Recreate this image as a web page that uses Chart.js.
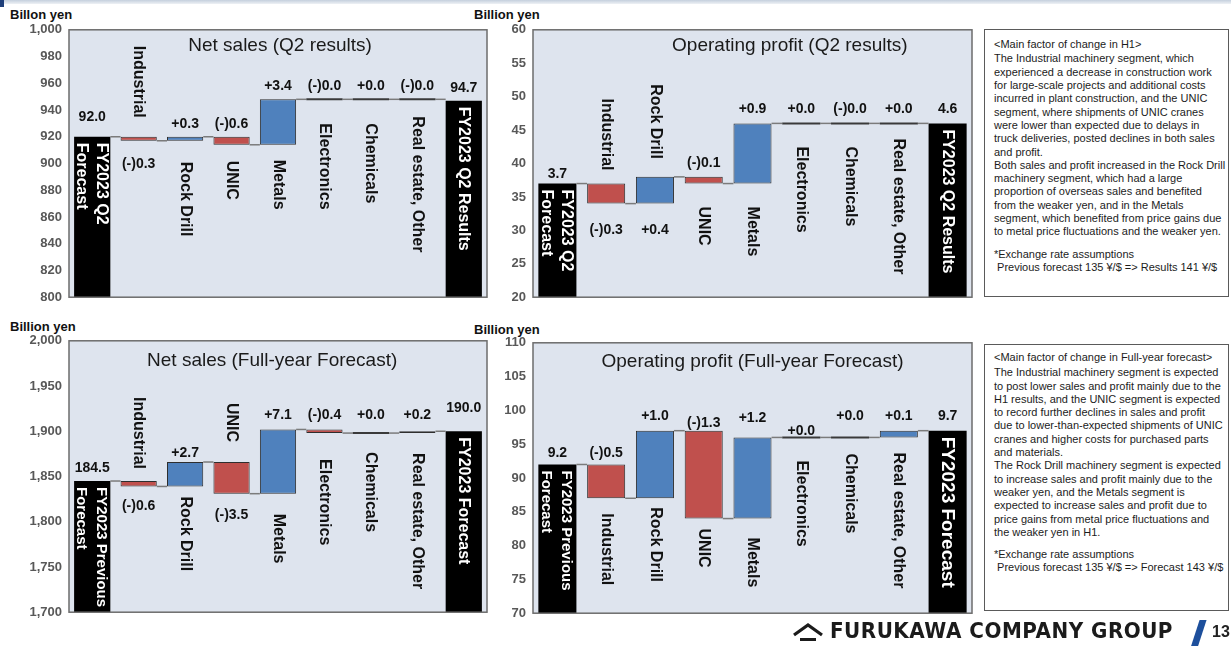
<!DOCTYPE html>
<html>
<head>
<meta charset="utf-8">
<script src="https://cdn.jsdelivr.net/npm/chart.js@4.4.0/dist/chart.umd.min.js"></script>
<style>
  html, body { margin: 0; padding: 0; background: #fff; }
  body { width: 1231px; height: 646px; position: relative; overflow: hidden;
         font-family: "Liberation Sans", Arial, sans-serif; }
  .topband { position: absolute; left: 0; top: 0; width: 1231px; height: 4px;
             background: linear-gradient(#c4cfdd, #eef1f5); }
  .topmark { position: absolute; left: 0; top: 0; width: 4px; height: 7px; background: #1f3f7a; }
  .unit { position: absolute; font-weight: bold; font-size: 13px; line-height: 14px; color: #111; white-space: nowrap; }
  canvas { position: absolute; }
  .note { position: absolute; border: 1px solid #5a5a5a; box-sizing: border-box; background: #fff;
          font-size: 11px; line-height: 13.3px; color: #1c1c1c; padding-left: 9px; white-space: pre; }
  .note .head { margin-bottom: 1.7px; }
  .note .fx { margin-top: 9px; }
  .brand { position: absolute; left: 830px; top: 619px; font-family: "DejaVu Sans", sans-serif;
           font-weight: bold; font-size: 21px; line-height: 24px; color: #1b1b1b; white-space: nowrap;
           transform-origin: 0 50%; letter-spacing: 0.5px; }
  .icon { position: absolute; left: 791px; top: 620px; }
  .slash { position: absolute; left: 1195px; top: 620px; width: 7px; height: 28px; background: #1d4f9c;
           transform: skewX(-18deg); }
  .page { position: absolute; left: 1212px; top: 623px; font-weight: bold; font-size: 16px; color: #222; }
</style>
</head>
<body>
<div class="topband"></div>
<div class="topmark"></div>

<div class="unit" style="left:10px;top:8px;">Billon yen</div>
<div class="unit" style="left:474px;top:8px;">Billion yen</div>
<div class="unit" style="left:10px;top:320px;">Billion yen</div>
<div class="unit" style="left:474px;top:323px;">Billion yen</div>

<canvas id="cQ2Sales"></canvas>
<canvas id="cQ2Profit"></canvas>
<canvas id="cFySales"></canvas>
<canvas id="cFyProfit"></canvas>

<div class="note" style="left:984px;top:29px;width:245px;height:268px;padding-top:7.5px;"><div class="head">&lt;Main factor of change in H1&gt;</div><div>The Industrial machinery segment, which
experienced a decrease in construction work
for large-scale projects and additional costs
incurred in plant construction, and the UNIC
segment, where shipments of UNIC cranes
were lower than expected due to delays in
truck deliveries, posted declines in both sales
and profit.
Both sales and profit increased in the Rock Drill
machinery segment, which had a large
proportion of overseas sales and benefited
from the weaker yen, and in the Metals
segment, which benefited from price gains due
to metal price fluctuations and the weaker yen.</div><div class="fx">*Exchange rate assumptions
 Previous forecast 135 ¥/$ =&gt; Results 141 ¥/$</div></div>

<div class="note" style="left:984px;top:344px;width:245px;height:267px;padding-top:6.3px;"><div class="head">&lt;Main factor of change in Full-year forecast&gt;</div><div>The Industrial machinery segment is expected
to post lower sales and profit mainly due to the
H1 results, and the UNIC segment is expected
to record further declines in sales and profit
due to lower-than-expected shipments of UNIC
cranes and higher costs for purchased parts
and materials.
The Rock Drill machinery segment is expected
to increase sales and profit mainly due to the
weaker yen, and the Metals segment is
expected to increase sales and profit due to
price gains from metal price fluctuations and
the weaker yen in H1.</div><div class="fx">*Exchange rate assumptions
 Previous forecast 135 ¥/$ =&gt; Forecast 143 ¥/$</div></div>

<svg class="icon" width="34" height="24" viewBox="0 0 34 24">
  <polyline points="3,15 17,5 31,15" fill="none" stroke="#1b1b1b" stroke-width="3.2" stroke-linejoin="miter"/>
  <line x1="9" y1="19.5" x2="25" y2="19.5" stroke="#1b1b1b" stroke-width="3"/>
</svg>
<div class="brand" id="brand">FURUKAWA COMPANY GROUP</div>
<div class="slash"></div>
<div class="page">13</div>

<script>
// Segment names, in waterfall order
const SEGMENTS = ['Industrial', 'Rock Drill', 'UNIC', 'Metals', 'Electronics', 'Chemicals', 'Real estate, Other'];

// Q2 results, billion yen: [starting forecast, result] and change per segment
const q2SalesTotals   = [92.0, 94.7];
const q2SalesChanges  = [-0.3, 0.3, -0.6, 3.4, -0.0, 0.0, -0.0];
const q2ProfitTotals  = [3.7, 4.6];
const q2ProfitChanges = [-0.3, 0.4, -0.1, 0.9, 0.0, -0.0, 0.0];

// Full-year forecast, billion yen
const fySalesTotals   = [184.5, 190.0];
const fySalesChanges  = [-0.6, 2.7, -3.5, 7.1, -0.4, 0.0, 0.2];
const fyProfitTotals  = [9.2, 9.7];
const fyProfitChanges = [-0.5, 1.0, -1.3, 1.2, 0.0, 0.0, 0.1];

// Axis tick labels (axis printed in units of 100 million yen)
const q2SalesTicks  = [800, 820, 840, 860, 880, 900, 920, 940, 960, 980, 1000];
const q2ProfitTicks = [20, 25, 30, 35, 40, 45, 50, 55, 60];
const fySalesTicks  = [1700, 1750, 1800, 1850, 1900, 1950, 2000];
const fyProfitTicks = [70, 75, 80, 85, 90, 95, 100, 105, 110];
const TICK_PER_BILLION = 10;

// Names of the start / end bars
const q2Ends = ['FY2023 Q2\nForecast', 'FY2023 Q2 Results'];
const fyEnds = ['FY2023 Previous\nForecast', 'FY2023 Forecast'];

const COLORS = { total: '#000000', neg: '#c0504d', pos: '#4f81bd' };
const FONT = '"Liberation Sans", Arial, sans-serif';
const specs = new Map();

function isDown(v) { return v < 0 || Object.is(v, -0); }
function fmtChange(v) { return (isDown(v) ? '(-)' : '+') + Math.abs(v).toFixed(1); }

// floating bars: totals rise from the axis floor, changes float on the running level
function buildBars(totals, changes, floor) {
  const bars = [[floor, totals[0]]];
  const levels = [totals[0]];
  let run = totals[0];
  changes.forEach(c => {
    const next = run + c;
    bars.push([run, next]);
    levels.push(next);
    run = next;
  });
  bars.push([floor, totals[1]]);
  levels.push(totals[1]);
  return { bars, levels };
}

const waterfallPlugin = {
  id: 'waterfall',
  beforeDatasetsDraw(chart) {
    const a = chart.chartArea, ctx = chart.ctx;
    ctx.save();
    ctx.fillStyle = '#dee4ee';
    ctx.fillRect(a.left, a.top, a.width, a.height);
    ctx.restore();
  },
  afterDatasetsDraw(chart) {
    const s = specs.get(chart.canvas);
    const a = chart.chartArea, ctx = chart.ctx, ys = chart.scales.y;
    const els = chart.getDatasetMeta(0).data;
    const n = els.length;
    ctx.save();

    // frame
    ctx.strokeStyle = '#6c6c6c';
    ctx.lineWidth = 1.5;
    ctx.strokeRect(a.left, a.top, a.width, a.height);

    // connectors between consecutive bars
    ctx.strokeStyle = '#7b7b7b';
    ctx.lineWidth = 1.5;
    for (let i = 0; i < n - 1; i++) {
      const py = ys.getPixelForValue(s.levels[i]);
      ctx.beginPath();
      ctx.moveTo(els[i].x + els[i].width / 2, py);
      ctx.lineTo(els[i + 1].x - els[i + 1].width / 2, py);
      ctx.stroke();
    }
    // unchanged segments show as a flat bar
    ctx.strokeStyle = '#3a3a3a';
    ctx.lineWidth = 2;
    for (let i = 1; i < n - 1; i++) {
      if (s.changes[i - 1] === 0) {
        const py = ys.getPixelForValue(s.levels[i]);
        ctx.beginPath();
        ctx.moveTo(els[i].x - els[i].width / 2, py);
        ctx.lineTo(els[i].x + els[i].width / 2, py);
        ctx.stroke();
      }
    }

    // value labels
    ctx.fillStyle = '#111';
    ctx.font = 'bold 14px ' + FONT;
    ctx.textAlign = 'center';
    ctx.textBaseline = 'middle';
    for (let i = 0; i < n; i++) {
      const el = els[i];
      const top = Math.min(el.y, el.base), bottom = Math.max(el.y, el.base);
      const txt = (i === 0 || i === n - 1) ? s.totals[i === 0 ? 0 : 1].toFixed(1) : fmtChange(s.changes[i - 1]);
      const y = s.val[i] === 'a' ? top - s.valGap[i] : bottom + s.valGap[i];
      ctx.fillText(txt, el.x, y);
    }

    // category labels, vertical
    ctx.textAlign = 'left';
    for (let i = 0; i < n; i++) {
      const el = els[i];
      const top = Math.min(el.y, el.base), bottom = Math.max(el.y, el.base);
      const lines = String(chart.data.labels[i]).split('\n');
      ctx.save();
      if (s.cat[i] === 'in') {
        ctx.fillStyle = '#ffffff';
        ctx.font = 'bold ' + s.inFont[i === 0 ? 0 : 1] + 'px ' + FONT;
        const offs = lines.length > 1 ? [9, -11] : [0];
        lines.forEach((ln, k) => {
          ctx.save();
          ctx.translate(el.x + offs[k], top + 6);
          ctx.rotate(Math.PI / 2);
          ctx.fillText(ln, 0, 0);
          ctx.restore();
        });
      } else {
        ctx.fillStyle = '#111';
        ctx.font = 'bold 16px ' + FONT;
        const w = ctx.measureText(lines[0]).width;
        const y0 = s.cat[i] === 'a' ? top - s.catGap[i] - w : bottom + s.catGap[i];
        ctx.translate(el.x, y0);
        ctx.rotate(Math.PI / 2);
        ctx.fillText(lines[0], 0, 0);
      }
      ctx.restore();
    }

    // panel title
    ctx.fillStyle = '#1a1a1a';
    ctx.font = '19px ' + FONT;
    ctx.textAlign = 'center';
    ctx.fillText(s.title, a.left + a.width * s.titleX, a.top + s.titleY);
    ctx.restore();
  }
};

function makeChart(id, box, canvasLeft, totals, changes, ticks, ends, lay) {
  const canvas = document.getElementById(id);
  const top = box.t - 14;
  const height = box.b - box.t + 28;
  const width = box.r - canvasLeft + 6;
  canvas.width = width; canvas.height = height;
  Object.assign(canvas.style, { left: canvasLeft + 'px', top: top + 'px', width: width + 'px', height: height + 'px' });

  const floor = ticks[0] / TICK_PER_BILLION;
  const ceil = ticks[ticks.length - 1] / TICK_PER_BILLION;
  const { bars, levels } = buildBars(totals, changes, floor);
  const labels = [ends[0], ...SEGMENTS, ends[1]];
  const n = labels.length;
  const kinds = labels.map((_, i) => (i === 0 || i === n - 1) ? 'total' : (isDown(changes[i - 1]) ? 'neg' : 'pos'));
  specs.set(canvas, Object.assign({ levels, totals, changes }, lay));

  new Chart(canvas, {
    type: 'bar',
    data: {
      labels,
      datasets: [{
        data: bars,
        backgroundColor: kinds.map(k => COLORS[k]),
        borderColor: '#2e2e2e',
        borderWidth: bars.map((b, i) => (kinds[i] === 'total' || b[0] === b[1]) ? 0 : 1),
        borderSkipped: false,
        barPercentage: 0.78,
        categoryPercentage: 1
      }]
    },
    options: {
      responsive: false,
      animation: false,
      devicePixelRatio: 1,
      layout: { padding: { top: box.t - top, bottom: top + height - box.b, left: 0, right: canvasLeft + width - box.r } },
      scales: {
        x: { display: false },
        y: {
          min: floor, max: ceil,
          afterFit(sc) { sc.width = box.l - canvasLeft; },
          afterBuildTicks(sc) { sc.ticks = ticks.map(t => ({ value: t / TICK_PER_BILLION })); },
          grid: { display: false, drawTicks: false },
          border: { display: false },
          ticks: {
            padding: 7,
            color: '#585858',
            font: { family: FONT, size: 13, weight: 'bold' },
            callback: v => Math.round(v * TICK_PER_BILLION).toLocaleString('en-US')
          }
        }
      },
      plugins: { legend: { display: false }, tooltip: { enabled: false } }
    },
    plugins: [waterfallPlugin]
  });
}

makeChart('cQ2Sales', { l: 69, t: 29, r: 487, b: 298 }, 0, q2SalesTotals, q2SalesChanges, q2SalesTicks, q2Ends, {
  title: 'Net sales (Q2 results)', titleX: 0.505, titleY: 16, inFont: [16, 16],
  cat: ['in', 'a', 'b', 'b', 'b', 'b', 'b', 'b', 'in'],
  catGap: [0, 19, 21, 16, 15, 24, 24, 17, 0],
  val: ['a', 'b', 'a', 'a', 'a', 'a', 'a', 'a', 'a'],
  valGap: [20, 23, 13, 13, 13, 13, 13, 13, 13]
});

makeChart('cQ2Profit', { l: 533, t: 29, r: 972, b: 298 }, 490, q2ProfitTotals, q2ProfitChanges, q2ProfitTicks, q2Ends, {
  title: 'Operating profit (Q2 results)', titleX: 0.585, titleY: 16, inFont: [16, 16],
  cat: ['in', 'a', 'a', 'b', 'b', 'b', 'b', 'b', 'in'],
  catGap: [0, 13, 18, 23, 23, 23, 23, 15, 0],
  val: ['a', 'b', 'b', 'a', 'a', 'a', 'a', 'a', 'a'],
  valGap: [9, 27, 27, 14, 14, 14, 14, 14, 14]
});

makeChart('cFySales', { l: 69, t: 340, r: 487, b: 613 }, 0, fySalesTotals, fySalesChanges, fySalesTicks, fyEnds, {
  title: 'Net sales (Full-year Forecast)', titleX: 0.486, titleY: 20, inFont: [15, 16],
  cat: ['in', 'a', 'b', 'a', 'b', 'b', 'b', 'b', 'in'],
  catGap: [0, 12, 10, 20, 20, 26, 19, 20, 0],
  val: ['a', 'b', 'a', 'b', 'a', 'a', 'a', 'a', 'a'],
  valGap: [13, 20, 9, 21, 14, 14, 18, 16, 23]
});

makeChart('cFyProfit', { l: 533, t: 342, r: 972, b: 614 }, 490, fyProfitTotals, fyProfitChanges, fyProfitTicks, fyEnds, {
  title: 'Operating profit (Full-year Forecast)', titleX: 0.5, titleY: 19, inFont: [15, 19],
  cat: ['in', 'b', 'b', 'b', 'b', 'b', 'b', 'b', 'in'],
  catGap: [0, 15, 9, 10, 19, 23, 16, 15, 0],
  val: ['a', 'a', 'a', 'a', 'a', 'a', 'a', 'a', 'a'],
  valGap: [11, 11, 15, 8, 19, 6, 21, 15, 15]
});

// stretch the group name to its lockup width
(function () {
  const el = document.getElementById('brand');
  const w = el.getBoundingClientRect().width;
  el.style.transform = 'scaleX(' + (343 / w) + ')';
})();
</script>
</body>
</html>
